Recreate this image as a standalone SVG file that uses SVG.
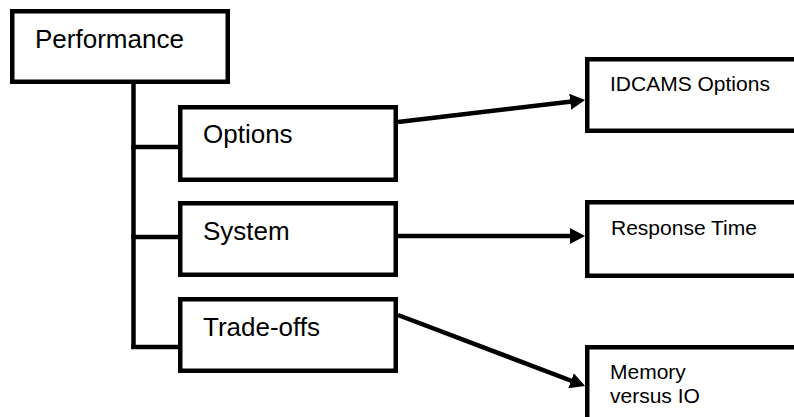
<svg xmlns="http://www.w3.org/2000/svg" width="794" height="417" viewBox="0 0 794 417">
<style>
.box{fill:#fff;stroke:#000;stroke-width:4.5}
.big{font-family:"Liberation Sans",Arial,sans-serif;font-size:26px;fill:#000}
.small{font-family:"Liberation Sans",Arial,sans-serif;font-size:21px;fill:#000}
.conn{fill:none;stroke:#000;stroke-width:4.5}
</style>
<defs>
<marker id="ah" markerUnits="userSpaceOnUse" markerWidth="15" markerHeight="16" refX="8" refY="8" orient="auto">
<path d="M0,0 L15,8 L0,16 z" fill="#000"/>
</marker>
</defs>
<rect width="794" height="417" fill="#fff"/>
<g id="connectors">
<path class="conn" d="M133.5,83 V349"/>
<path class="conn" d="M131.25,147 H180"/>
<path class="conn" d="M131.25,237 H180"/>
<path class="conn" d="M131.25,347 H180"/>
<path class="conn" d="M398,122 L578.1,100.8" marker-end="url(#ah)"/>
<path class="conn" d="M398,236 L578,236" marker-end="url(#ah)"/>
<path class="conn" d="M398,315 L578.5,383.5" marker-end="url(#ah)"/>
</g>
<g id="performance">
<rect class="box" x="12.25" y="11.25" width="215.5" height="70.5"/>
<text class="big" x="35" y="48">Performance</text>
</g>
<g id="options">
<rect class="box" x="180.25" y="107.25" width="215.5" height="72.5"/>
<text class="big" x="203" y="143">Options</text>
</g>
<g id="system">
<rect class="box" x="180.25" y="203.25" width="215.5" height="71.5"/>
<text class="big" x="203" y="240">System</text>
</g>
<g id="tradeoffs">
<rect class="box" x="180.25" y="299.25" width="215.5" height="71.5"/>
<text class="big" x="203" y="336">Trade-offs</text>
</g>
<g id="idcams">
<rect class="box" x="587.25" y="59.25" width="220" height="71.5"/>
<text class="small" x="610" y="91">IDCAMS Options</text>
</g>
<g id="response">
<rect class="box" x="587.25" y="202.25" width="220" height="73.5"/>
<text class="small" x="611" y="235">Response Time</text>
</g>
<g id="memory">
<rect class="box" x="587.25" y="347.25" width="220" height="80"/>
<text class="small" x="610" y="379">Memory</text>
<text class="small" x="610" y="403">versus IO</text>
</g>
</svg>
